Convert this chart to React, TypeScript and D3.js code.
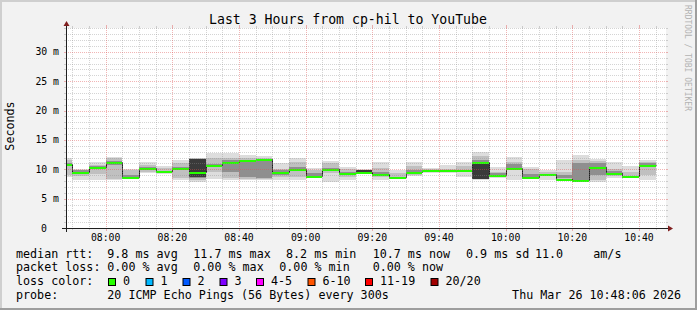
import React from "react";
import * as d3 from "d3";

// ---------- data ----------
const title = "Last 3 Hours from cp-hil to YouTube";
const startTime = "07:48:06";
const endTime = "10:48:06";
const binEnds = ["07:50","07:55","08:00","08:05","08:10","08:15","08:20","08:25","08:30","08:35","08:40","08:45","08:50","08:55","09:00","09:05","09:10","09:15","09:20","09:25","09:30","09:35","09:40","09:45","09:50","09:55","10:00","10:05","10:10","10:15","10:20","10:25","10:30","10:35","10:40","10:45"];
const medianMs = [10.85,9.55,10.45,11.25,8.75,10.17,9.7,10.17,9.55,10.7,11.2,11.5,11.7,9.5,10.1,8.9,10.1,9.3,9.5,9.2,8.75,9.55,9.8,9.8,9.8,11.25,9.1,10.3,8.75,9.26,8.4,8.2,10.45,9.4,8.86,10.7];
const smokeMin = [8.6,8.2,8.2,8.1,8.4,9.3,9.2,8.1,7.9,8.3,8.2,8.1,8.1,8.2,8.2,8.5,7.9,8.2,9.3,8.2,8.4,8.9,9.3,9.3,8.75,8.2,8.5,8.2,8.5,8.2,8.1,8.1,7.9,8.5,8.5,8.2];
const smokeMax = [12.0,10.0,11.3,12.15,10.1,11.2,10.6,11.6,12.0,12.7,12.8,12.4,12.3,11.0,11.9,10.2,11.4,10.45,10.0,11.3,9.9,11.2,10.2,10.7,11.2,13.0,10.45,12.15,10.45,9.9,11.5,12.4,11.7,11.2,10.6,11.5];
const band2Lo = [9.0,8.8,9.2,8.4,8.5,9.6,9.5,8.5,8.2,9.5,8.5,8.3,8.3,8.75,8.75,8.75,9.3,8.75,9.35,8.7,8.6,9.0,9.5,9.6,9.5,8.3,8.6,10.0,8.7,8.8,8.4,8.15,8.1,8.9,8.9,9.0];
const band2Hi = [11.6,9.9,10.8,11.9,9.8,10.7,10.2,11.0,11.9,12.0,12.0,12.0,12.0,10.0,11.3,9.9,11.1,10.0,9.95,10.2,9.3,10.5,10.0,10.0,10.5,12.2,9.6,11.3,10.0,9.6,9.6,11.5,11.4,10.0,9.6,11.2];
const band3Lo = [10.5,9.3,10.2,10.8,8.6,10.0,null,9.8,8.5,10.4,9.5,8.6,8.5,9.0,9.8,8.8,9.9,9.1,9.4,9.0,null,9.3,null,null,null,8.35,8.7,10.2,8.75,null,8.45,8.2,9.0,9.1,null,10.4];
const band3Hi = [11.1,9.8,10.6,11.4,9.0,10.4,null,10.4,11.8,10.9,11.5,11.6,11.7,9.8,10.4,9.4,10.3,9.6,9.9,9.5,null,9.8,null,null,null,11.5,9.3,10.9,9.2,null,9.0,11.0,11.0,9.7,null,11.0];
const band4Lo = [null,null,null,null,null,null,null,null,8.75,null,null,null,null,null,null,null,null,null,9.5,null,null,null,null,null,null,8.4,8.75,null,null,null,null,null,null,null,null,null];
const band4Hi = [null,null,null,null,null,null,null,null,11.7,null,null,null,null,null,null,null,null,null,9.85,null,null,null,null,null,null,11.3,9.1,null,null,null,null,null,null,null,null,null];
const yTicks = [0, 5, 10, 15, 20, 25, 30];
const xTickLabels = ["08:00","08:20","08:40","09:00","09:20","09:40","10:00","10:20","10:40"];
const rttLabels = ["median rtt:", "9.8 ms avg", "11.7 ms max", "8.2 ms min", "10.7 ms now", "0.9 ms sd", "11.0", "am/s"];
const lossLabels = ["packet loss:", "0.00 % avg", "0.00 % max", "0.00 % min", "0.00 % now"];
const lossColorNames = ["0", "1", "2", "3", "4-5", "6-10", "11-19", "20/20"];
const lossColors = ["#26ff00", "#00b8ff", "#0059ff", "#7e00ff", "#ff00ff", "#ff5500", "#ff0000", "#a10000"];
const probeText = "20 ICMP Echo Pings (56 Bytes) every 300s";
const dateText = "Thu Mar 26 10:48:06 2026";

// ---------- layout ----------
const W = 697, H = 310;
const X0 = 66, X1 = 666, Y0 = 228, Y1 = 28;
const YMAX = 34.05;
const MONO = "'DejaVu Sans Mono', monospace";
const rttX = [16, 107.3, 193.3, 286, 372.7, 466, 535, 593.3];
const lossX = [16, 107.3, 193.3, 279.3, 372.7];
const boxX = [108, 145.5, 182.5, 219.5, 256, 307.5, 365, 430.5];

const toMin = (s: string) => {
  const p = s.split(":").map(Number);
  return p[0] * 60 + p[1] + (p[2] || 0) / 60;
};

export default function App() {
  const tStart = toMin(startTime);
  const tEnd = toMin(endTime);
  const x = d3.scaleLinear().domain([tStart, tEnd]).range([X0, X1]);
  const y = d3.scaleLinear().domain([0, YMAX]).range([Y0, Y1]);

  const bins = binEnds.map((e, i) => {
    const te = toMin(e);
    const ts = Math.max(te - 5, tStart);
    return { x0: x(ts), x1: x(te), i };
  });

  const bandRect = (lo: (number | null)[], hi: (number | null)[], color: string, key: string) =>
    bins.map((b) => {
      const l = lo[b.i], h = hi[b.i];
      if (l == null || h == null) return null;
      return (
        <rect key={key + b.i} x={b.x0} width={b.x1 - b.x0} y={y(h)} height={y(l) - y(h)} fill={color} shapeRendering="crispEdges" />
      );
    });

  const medPts: [number, number][] = [];
  bins.forEach((b) => {
    medPts.push([b.x0, y(medianMs[b.i])]);
    medPts.push([b.x1, y(medianMs[b.i])]);
  });
  const medLine = d3.line().x((d) => Math.round(d[0]) + 0.5).y((d) => Math.round(d[1]) + 0.5)(medPts) || "";

  const minorY = d3.range(1, Math.floor(YMAX) + 1).filter((v) => v % 5 !== 0);
  const majorY = yTicks.filter((v) => v > 0);
  const vStart = Math.ceil(tStart / 5) * 5;
  const vLines = d3.range(vStart, tEnd, 5);
  const minorV = vLines.filter((t) => Math.round(t) % 20 !== 0);
  const majorV = vLines.filter((t) => Math.round(t) % 20 === 0);
  const py = (v: number) => Math.round(y(v)) + 0.5;
  const px = (t: number) => Math.round(x(t)) + 0.5;

  const gridMinor = "rgba(143,143,143,0.38)";
  const gridMajor = "rgba(222,79,79,0.42)";

  return (
    <svg width={W} height={H} style={{ position: "absolute", left: 0, top: 0 }} fontFamily={MONO}>
      <rect x={0} y={0} width={W} height={H} fill="#f2f2f2" />
      {/* frame */}
      <rect x={0} y={0} width={W} height={2} fill="#cfcfcf" />
      <rect x={0} y={0} width={2} height={H} fill="#cfcfcf" />
      <rect x={W - 2} y={0} width={2} height={H} fill="#9e9e9e" />
      <rect x={0} y={H - 2} width={W} height={2} fill="#9e9e9e" />
      {/* canvas */}
      <rect x={X0} y={Y1} width={X1 - X0} height={Y0 - Y1} fill="#ffffff" />

      {/* smoke */}
      {bandRect(smokeMin, smokeMax, "#dddddd", "b1")}
      {bandRect(band2Lo, band2Hi, "#c0c0c0", "b2")}
      {bandRect(band3Lo, band3Hi, "#8f8f8f", "b3")}
      {bandRect(band4Lo, band4Hi, "#3a3a3a", "b4")}

      {/* median line */}
      <path d={medLine} fill="none" stroke="#202020" strokeWidth={1} />
      {bins.map((b) => (
        <rect key={"m" + b.i} x={b.x0} width={b.x1 - b.x0} y={Math.round(y(medianMs[b.i])) - 0.5} height={2.2} fill={lossColors[0]} shapeRendering="crispEdges" />
      ))}

      {/* grid */}
      {minorY.map((v) => (
        <g key={"gy" + v}>
          <line x1={X0} x2={X1} y1={py(v)} y2={py(v)} stroke={gridMinor} strokeDasharray="1,1" />
          <line x1={X0 - 2} x2={X0} y1={py(v)} y2={py(v)} stroke={gridMinor} />
          <line x1={X1} x2={X1 + 2} y1={py(v)} y2={py(v)} stroke={gridMinor} />
        </g>
      ))}
      {minorV.map((t) => (
        <g key={"gv" + t}>
          <line x1={px(t)} x2={px(t)} y1={Y1} y2={Y0} stroke={gridMinor} strokeDasharray="1,1" />
          <line x1={px(t)} x2={px(t)} y1={Y0} y2={Y0 + 2} stroke={gridMinor} />
          <line x1={px(t)} x2={px(t)} y1={Y1 - 2} y2={Y1} stroke={gridMinor} />
        </g>
      ))}
      {majorY.map((v) => (
        <g key={"my" + v}>
          <line x1={X0} x2={X1} y1={py(v)} y2={py(v)} stroke={gridMajor} strokeDasharray="1,1" />
          <line x1={X0 - 2} x2={X0} y1={py(v)} y2={py(v)} stroke={gridMajor} />
          <line x1={X1} x2={X1 + 2} y1={py(v)} y2={py(v)} stroke={gridMajor} />
        </g>
      ))}
      {majorV.map((t) => (
        <g key={"mv" + t}>
          <line x1={px(t)} x2={px(t)} y1={Y1} y2={Y0} stroke={gridMajor} strokeDasharray="1,1" />
          <line x1={px(t)} x2={px(t)} y1={Y0} y2={Y0 + 3} stroke={gridMajor} />
          <line x1={px(t)} x2={px(t)} y1={Y1 - 3} y2={Y1} stroke={gridMajor} />
        </g>
      ))}

      {/* axes */}
      <line x1={X0 - 4} x2={X1 + 4} y1={Y0 + 0.5} y2={Y0 + 0.5} stroke="#1f1f1f" />
      <line x1={X0 + 0.5} x2={X0 + 0.5} y1={Y0 + 4} y2={Y1 - 4} stroke="#1f1f1f" />
      <path d={`M${X1 + 2},${Y0 - 2.5} L${X1 + 7},${Y0 + 0.5} L${X1 + 2},${Y0 + 3.5} Z`} fill="#801f1f" />
      <path d={`M${X0 - 2.5},${Y1 - 2} L${X0 + 0.5},${Y1 - 7} L${X0 + 3.5},${Y1 - 2} Z`} fill="#801f1f" />

      {/* y labels */}
      {yTicks.map((v) => (
        <text key={"yl" + v} x={v === 0 ? 47 : 59} y={y(v) + 3.5} fontSize={9.8} textAnchor="end" fill="#000">
          {v === 0 ? "0" : `${v} m`}
        </text>
      ))}
      {/* x labels */}
      {xTickLabels.map((l) => (
        <text key={"xl" + l} x={x(toMin(l))} y={241} fontSize={9.8} textAnchor="middle" fill="#000">
          {l}
        </text>
      ))}

      {/* title */}
      <text x={348} y={24} fontSize={13.2} textAnchor="middle" fill="#000">{title}</text>
      {/* y axis title */}
      <text transform="translate(14,126) rotate(-90)" fontSize={11.7} textAnchor="middle" fill="#000">Seconds</text>
      {/* watermark */}
      <text transform="translate(685,5) rotate(90)" fontSize={8} fill="#b3b3b3">RRDTOOL / TOBI OETIKER</text>

      {/* legend */}
      <g fontSize={11.7} fill="#000" style={{ whiteSpace: "pre" }}>
        {rttLabels.map((t, i) => (
          <text key={"r" + i} x={rttX[i]} y={257.5}>{t}</text>
        ))}
        {lossLabels.map((t, i) => (
          <text key={"l" + i} x={lossX[i]} y={271.3}>{t}</text>
        ))}
        <text x={16} y={285.2}>loss color:</text>
        {lossColorNames.map((t, i) => (
          <g key={"c" + i}>
            <rect x={boxX[i] + 0.5} y={278.5} width={7} height={7} fill={lossColors[i]} stroke="#000" strokeWidth={1} />
            <text x={boxX[i] + 15} y={285.2}>{t}</text>
          </g>
        ))}
        <text x={16} y={299}>probe:</text>
        <text x={107.3} y={299}>{probeText}</text>
        <text x={681} y={299} textAnchor="end">{dateText}</text>
      </g>
    </svg>
  );
}
